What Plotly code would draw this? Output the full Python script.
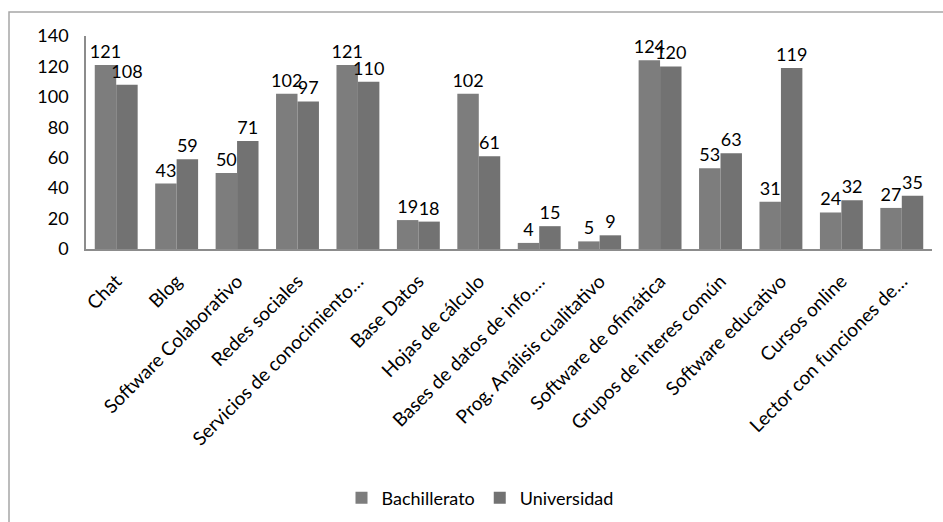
import plotly.graph_objects as go

categories = ["Chat", "Blog", "Software Colaborativo", "Redes sociales",
              "Servicios de conocimiento…", "Base Datos", "Hojas de cálculo",
              "Bases de datos de info.…", "Prog. Análisis cualitativo",
              "Software de ofimática", "Grupos de interes común",
              "Software educativo", "Cursos online", "Lector con funciones de…"]
bachillerato = [121, 43, 50, 102, 121, 19, 102, 4, 5, 124, 53, 31, 24, 27]
universidad = [108, 59, 71, 97, 110, 18, 61, 15, 9, 120, 63, 119, 32, 35]
y_ticks = [0, 20, 40, 60, 80, 100, 120, 140]

FONT = "Lato"
W, H = 943, 522
ML, MR, MT, MB = 86, 11, 36, 273
pw, ph = W - ML - MR, H - MT - MB

fig = go.Figure()
fig.add_trace(go.Bar(name="Bachillerato", x=categories, y=bachillerato,
                     marker=dict(color="#7d7d7d", line=dict(width=0)),
                     text=bachillerato, textposition="outside",
                     constraintext="none",
                     textfont=dict(family=FONT, size=18, color="#000"),
                     cliponaxis=False))
fig.add_trace(go.Bar(name="Universidad", x=categories, y=universidad,
                     marker=dict(color="#727272", line=dict(width=0)),
                     text=universidad, textposition="outside",
                     constraintext="none",
                     textfont=dict(family=FONT, size=18, color="#000"),
                     cliponaxis=False))

def px_x(p):
    return (p - ML) / pw

def px_y(p):
    return (H - MB - p) / ph

fig.update_layout(
    width=W, height=H,
    margin=dict(l=ML, r=MR, t=MT, b=MB, autoexpand=False),
    paper_bgcolor="white", plot_bgcolor="white",
    barmode="group", bargap=0.29, bargroupgap=0,
    font=dict(family=FONT, size=18, color="#000"),
    showlegend=True,
    legend=dict(orientation="h", x=px_x(480), xanchor="center",
                y=px_y(498), yanchor="middle",
                font=dict(family=FONT, size=18, color="#000"),
                itemwidth=30, traceorder="normal"),
    uniformtext=dict(mode=False),
    shapes=[dict(type="rect", xref="paper", yref="paper",
                 x0=px_x(9), x1=px_x(960), y0=px_y(540), y1=px_y(12),
                 line=dict(color="#a6a6a6", width=1.5), layer="below")],
)
fig.update_xaxes(showline=True, linecolor="#8c8c8c", linewidth=1.5,
                 ticks="", tickangle=-45, showgrid=False, automargin=False,
                 tickfont=dict(family=FONT, size=19, color="#000"),
                 ticklabelstandoff=12)
fig.update_yaxes(range=[0, 140], tickvals=y_ticks, showline=True,
                 linecolor="#8c8c8c", linewidth=1.5, ticks="",
                 showgrid=False, zeroline=False, automargin=False,
                 tickfont=dict(family=FONT, size=18, color="#000"),
                 ticklabelstandoff=12)

fig.write_html("out.html")
